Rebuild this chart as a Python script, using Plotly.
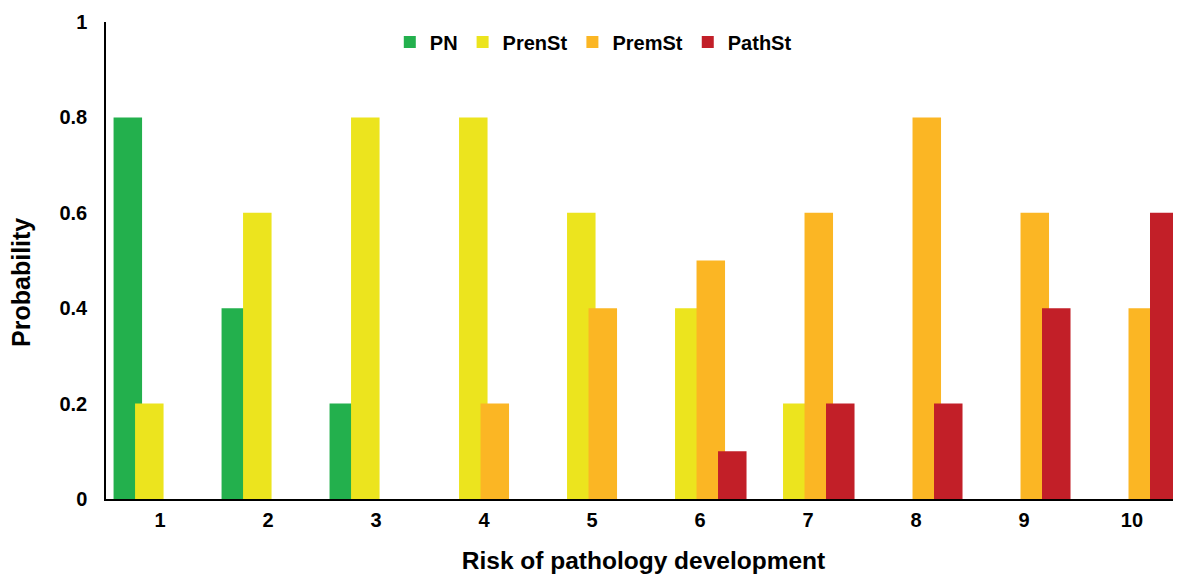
import plotly.graph_objects as go

categories = ["1", "2", "3", "4", "5", "6", "7", "8", "9", "10"]
series_names = ["PN", "PrenSt", "PremSt", "PathSt"]
pn = [0.8, 0.4, 0.2, 0, 0, 0, 0, 0, 0, 0]
prenst = [0.2, 0.6, 0.8, 0.8, 0.6, 0.4, 0.2, 0, 0, 0]
premst = [0, 0, 0, 0.2, 0.4, 0.5, 0.6, 0.8, 0.6, 0.4]
pathst = [0, 0, 0, 0, 0, 0.1, 0.2, 0.2, 0.4, 0.6]
y_ticks = [0, 0.2, 0.4, 0.6, 0.8, 1]
y_ticktext = ["0", "0.2", "0.4", "0.6", "0.8", "1"]

colors = ["#23B04D", "#ECE41E", "#FBB624", "#C21F28"]
offsets = [-0.43, -0.231, -0.032, 0.167]
bar_width = 0.264

FONT = "Liberation Sans, Arial, sans-serif"

fig = go.Figure()
for name, vals, col, off in zip(series_names, [pn, prenst, premst, pathst], colors, offsets):
    fig.add_trace(go.Bar(
        x=categories, y=vals, name=name,
        marker=dict(color=col, line=dict(width=0)),
        width=bar_width, offset=off,
    ))

fig.update_layout(
    width=1173, height=568,
    margin=dict(l=98, r=0, t=14, b=77),
    barmode="overlay",
    plot_bgcolor="white", paper_bgcolor="white",
    font=dict(family=FONT, color="black", size=20, weight="bold"),
    legend=dict(
        orientation="h", x=0.264, xanchor="left", y=0.958, yanchor="middle",
        font=dict(family=FONT, size=20, weight="bold", color="black"),
        bgcolor="rgba(0,0,0,0)", itemwidth=30, traceorder="normal",
    ),
    showlegend=True,
    annotations=[dict(
        text="Probability", textangle=-90, showarrow=False,
        xref="paper", yref="paper", x=-0.0791, y=0.455,
        xanchor="center", yanchor="middle",
        font=dict(family=FONT, size=25, weight="bold", color="black"),
    )],
)
fig.update_xaxes(
    type="category", range=[-0.5, 9.454],
    showline=True, linecolor="black", linewidth=1.5,
    showgrid=False, ticks="", ticklabelstandoff=2,
    tickfont=dict(family=FONT, size=20, weight="bold"),
    title=dict(text="Risk of pathology development",
               font=dict(family=FONT, size=24.5, weight="bold"), standoff=22),
    zeroline=False,
)
fig.update_yaxes(
    range=[0, 1], tickvals=y_ticks, ticktext=y_ticktext,
    showline=True, linecolor="black", linewidth=1.5,
    showgrid=False, ticks="", ticklabelstandoff=13, zeroline=False,
    tickfont=dict(family=FONT, size=20, weight="bold"),
)

fig.write_html("out.html")
